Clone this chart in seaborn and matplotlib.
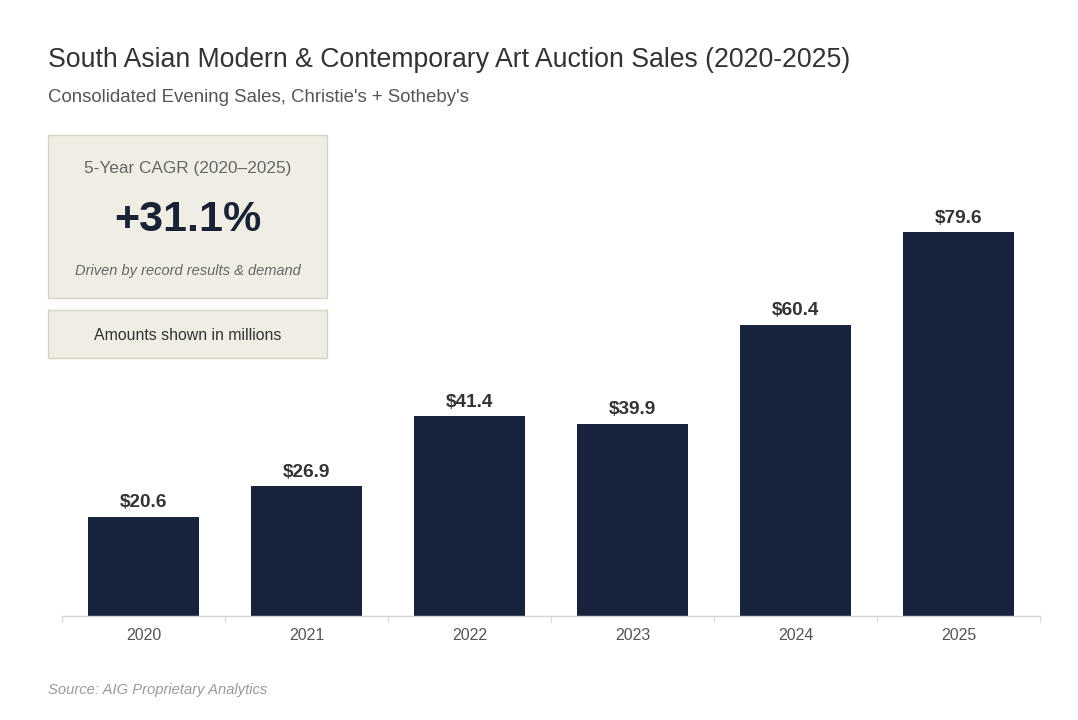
import matplotlib
matplotlib.use("Agg")
import matplotlib.pyplot as plt
import seaborn as sns
import pandas as pd
from matplotlib.patches import Rectangle

years = ["2020", "2021", "2022", "2023", "2024", "2025"]
sales = [20.6, 26.9, 41.4, 39.9, 60.4, 79.6]
labels = ["$20.6", "$26.9", "$41.4", "$39.9", "$60.4", "$79.6"]

sns.set_theme(style="white")
plt.rcParams["font.family"] = ["Liberation Sans", "DejaVu Sans"]

navy = "#17233d"
df = pd.DataFrame({"year": years, "sales": sales})

W, H = 1078, 720
fig = plt.figure(figsize=(W / 100, H / 100), dpi=100)
ax = fig.add_axes([62 / W, (H - 616) / H, (1040 - 62) / W, 482.4 / H])

sns.barplot(data=df, x="year", y="sales", color=navy, width=0.685,
            saturation=1, ax=ax, edgecolor=navy, linewidth=0)
ax.set_xlim(-0.5, 5.5)
ax.set_ylim(0, 100)

for i, (v, t) in enumerate(zip(sales, labels)):
    ax.text(i, v + 1.1, t, ha="center", va="bottom", fontsize=13.7,
            fontweight="bold", color="#333333")

for s in ["top", "right", "left"]:
    ax.spines[s].set_visible(False)
ax.spines["bottom"].set_color("#d4d4d4")
ax.spines["bottom"].set_linewidth(1)
ax.set_yticks([])
ax.set_xlabel("")
ax.set_ylabel("")
ax.tick_params(axis="x", length=0, labelsize=11.5, labelcolor="#555555", pad=9)
for b in [i - 0.5 for i in range(7)]:
    ax.plot([b, b], [0, -1.2], color="#dddddd", lw=1, clip_on=False)

# title block
fig.text(48 / W, 1 - 60 / H, "South Asian Modern & Contemporary Art Auction Sales (2020-2025)",
         fontsize=19.2, color="#333333", va="center")
fig.text(48 / W, 1 - 97 / H, "Consolidated Evening Sales, Christie's + Sotheby's",
         fontsize=13.4, color="#555555", va="center")

# CAGR box
box_fc = "#f0ede4"
box_ec = "#d8d3c5"
fig.patches.append(Rectangle((48 / W, 1 - 298 / H), 279 / W, 163 / H,
                             transform=fig.transFigure, fc=box_fc, ec=box_ec, lw=1))
cx = (48 + 327) / 2 / W
fig.text(cx, 1 - 168 / H, "5-Year CAGR (2020\u20132025)", ha="center", va="center",
         fontsize=12.4, color="#666666")
fig.text(cx, 1 - 220 / H, "+31.1%", ha="center", va="center",
         fontsize=31, fontweight="bold", color="#1a2236")
fig.text(cx, 1 - 271 / H, "Driven by record results & demand", ha="center", va="center",
         fontsize=10.5, style="italic", color="#666666")

fig.patches.append(Rectangle((48 / W, 1 - 358 / H), 279 / W, 48 / H,
                             transform=fig.transFigure, fc=box_fc, ec=box_ec, lw=1))
fig.text(cx, 1 - 335 / H, "Amounts shown in millions", ha="center", va="center",
         fontsize=11.4, color="#333333")

fig.text(48 / W, 1 - 690 / H, "Source: AIG Proprietary Analytics",
         fontsize=10.6, style="italic", color="#999999", va="center")

fig.savefig("out.png", dpi=100, facecolor="white")
